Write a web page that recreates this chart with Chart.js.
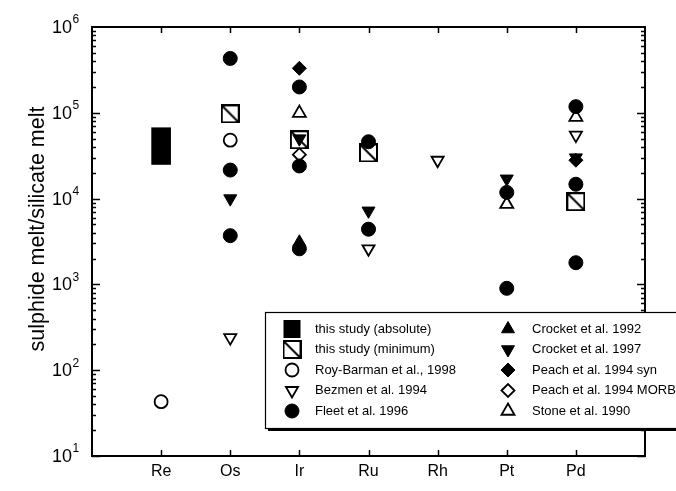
<!DOCTYPE html>
<html lang="en">
<head>
    <meta charset="UTF-8">
    <title>sulphide melt / silicate melt partition</title>
    <style>
        body { margin: 0; background: #fff; }
    </style>
</head>
<body>
    <canvas id="chart" width="676" height="491"></canvas>

    <script src="https://cdn.jsdelivr.net/npm/chart.js"></script>
    <script>
        // elements along the x axis (positions 1..7)
        const elements = ['Re', 'Os', 'Ir', 'Ru', 'Rh', 'Pt', 'Pd'];
        const yDecades = [10, 100, 1000, 10000, 100000, 1000000];
        const yTitle = 'sulphide melt/silicate melt';

        // values: [element, value]
        const absoluteRange = [['Re', 25000, 67000]];
        const minimumStudy = [['Os', 97000], ['Ir', 48500], ['Ru', 34000], ['Pd', 9200]];
        const royBarman = [['Re', 43], ['Os', 48000]];
        const bezmen = [['Os', 240], ['Ru', 2600], ['Rh', 28000], ['Pd', 55000]];
        const fleet = [
            ['Os', 430000], ['Os', 21500], ['Os', 3700],
            ['Ir', 200000], ['Ir', 24000], ['Ir', 2600],
            ['Ru', 46000], ['Ru', 4400],
            ['Pt', 11800], ['Pt', 900],
            ['Pd', 118000], ['Pd', 14700], ['Pd', 1790]
        ];
        const crocket92 = [['Ir', 3100]];
        const crocket97 = [['Os', 10000], ['Ir', 50000], ['Ru', 7200], ['Pt', 17000], ['Pd', 30000]];
        const peachSyn = [['Ir', 330000], ['Pd', 28000]];
        const peachMorb = [['Ir', 32500]];
        const stone = [['Ir', 99000], ['Pt', 8600], ['Pd', 89000]];

        const FONT = "'Liberation Sans', Arial, Helvetica, sans-serif";

        function toPoints(list) {
            return list.map(p => ({ x: elements.indexOf(p[0]) + 1, y: p[1] }));
        }

        // square with a diagonal, used for "this study (minimum)"
        function makeHatchSquare(size) {
            const c = document.createElement('canvas');
            c.width = size; c.height = size;
            const g = c.getContext('2d');
            g.fillStyle = '#fff';
            g.fillRect(0, 0, size, size);
            g.strokeStyle = '#000';
            g.lineWidth = 2;
            g.strokeRect(1, 1, size - 2, size - 2);
            g.beginPath();
            g.moveTo(1, 1);
            g.lineTo(size - 1, size - 1);
            g.stroke();
            return c;
        }
        const hatchSquare = makeHatchSquare(19);

        function filled(style, radius, rotation) {
            return { pointStyle: style, pointRadius: radius, pointRotation: rotation || 0,
                     backgroundColor: '#000', borderColor: '#000', borderWidth: 1 };
        }
        function open(style, radius, rotation) {
            return { pointStyle: style, pointRadius: radius, pointRotation: rotation || 0,
                     backgroundColor: '#fff', borderColor: '#000', borderWidth: 1.8 };
        }

        const series = [
            { label: 'this study (minimum)', data: minimumStudy, style: { pointStyle: hatchSquare, pointRadius: 10 }, order: 20 },
            { label: 'Roy-Barman et al., 1998', data: royBarman, style: open('circle', 6.5) },
            { label: 'Bezmen et al. 1994', data: bezmen, style: open('triangle', 7, 180) },
            { label: 'Stone et al. 1990', data: stone, style: open('triangle', 7.5) },
            { label: 'Peach et al. 1994 MORB', data: peachMorb, style: open('rectRot', 6.5) },
            { label: 'Fleet et al. 1996', data: fleet, style: filled('circle', 7) },
            { label: 'Crocket et al. 1992', data: crocket92, style: filled('triangle', 7.5) },
            { label: 'Peach et al. 1994 syn', data: peachSyn, style: filled('rectRot', 7) },
            { label: 'Crocket et al. 1997', data: crocket97, style: filled('triangle', 7.5, 180) }
        ];

        const datasets = [{
            type: 'bar',
            label: 'this study (absolute)',
            data: absoluteRange.map(p => ({ x: elements.indexOf(p[0]) + 1, y: [p[1], p[2]] })),
            backgroundColor: '#000',
            borderWidth: 0,
            barThickness: 19,
            grouped: false,
            order: 30
        }];
        series.forEach((s, i) => {
            datasets.push(Object.assign({
                type: 'scatter',
                label: s.label,
                data: toPoints(s.data),
                order: s.order !== undefined ? s.order : 10 - i
            }, s.style));
        });

        // frame, inward ticks, y tick labels and y title
        const axesPlugin = {
            id: 'axesFrame',
            afterDatasetsDraw(chart) {
                const ctx = chart.ctx;
                const a = chart.chartArea;
                const xs = chart.scales.x, ys = chart.scales.y;
                ctx.save();
                ctx.strokeStyle = '#000';
                ctx.lineWidth = 2;
                ctx.strokeRect(a.left, a.top, a.right - a.left, a.bottom - a.top);

                ctx.lineWidth = 1.5;
                ctx.beginPath();
                elements.forEach((e, i) => {
                    const px = Math.round(xs.getPixelForValue(i + 1)) + 0.5;
                    ctx.moveTo(px, a.bottom); ctx.lineTo(px, a.bottom - 6);
                    ctx.moveTo(px, a.top); ctx.lineTo(px, a.top + 6);
                });
                for (let d = 10; d < 1000000; d *= 10) {
                    for (let m = 1; m <= 9; m++) {
                        const len = m === 1 ? 8 : 4;
                        const py = Math.round(ys.getPixelForValue(m * d)) + 0.5;
                        ctx.moveTo(a.left, py); ctx.lineTo(a.left + len, py);
                        ctx.moveTo(a.right, py); ctx.lineTo(a.right - len, py);
                    }
                }
                ctx.stroke();

                // 10^n labels
                ctx.fillStyle = '#000';
                ctx.textBaseline = 'middle';
                ctx.textAlign = 'left';
                yDecades.forEach(v => {
                    const py = ys.getPixelForValue(v);
                    const exp = String(Math.round(Math.log10(v)));
                    ctx.font = '18px ' + FONT;
                    ctx.fillText('10', 52, py + 1);
                    const w = ctx.measureText('10').width;
                    ctx.font = '12px ' + FONT;
                    ctx.fillText(exp, 52 + w + 0.5, py - 7);
                });

                // rotated y title
                ctx.translate(38, 229);
                ctx.rotate(-Math.PI / 2);
                ctx.textAlign = 'center';
                ctx.font = '21.5px ' + FONT;
                ctx.fillText(yTitle, 0, 0);
                ctx.restore();
            }
        };

        // two-column boxed legend in the lower right
        const legendPlugin = {
            id: 'boxLegend',
            afterDraw(chart) {
                const ctx = chart.ctx;
                const draw = Chart.helpers.drawPoint;
                const box = { left: 265, top: 312, right: 690, bottom: 428 };
                const rows = [329, 349.5, 370, 390.5, 411];
                const left = ['this study (absolute)', 'this study (minimum)', 'Roy-Barman et al., 1998',
                              'Bezmen et al. 1994', 'Fleet et al. 1996'];
                const right = ['Crocket et al. 1992', 'Crocket et al. 1997', 'Peach et al. 1994 syn',
                               'Peach et al. 1994 MORB', 'Stone et al. 1990'];
                ctx.save();
                ctx.fillStyle = '#fff';
                ctx.fillRect(box.left, box.top, box.right - box.left, box.bottom - box.top);
                ctx.strokeStyle = '#000';
                ctx.lineWidth = 1.2;
                ctx.strokeRect(box.left + 0.5, box.top + 0.5, box.right - box.left, box.bottom - box.top);
                ctx.fillStyle = '#000';
                ctx.fillRect(box.left + 3, box.bottom, box.right - box.left, 3);

                const byLabel = {};
                chart.data.datasets.forEach(d => { byLabel[d.label] = d; });
                const sym = (label, x, y) => {
                    const d = byLabel[label];
                    if (d.type === 'bar') {
                        ctx.fillStyle = '#000';
                        ctx.fillRect(x - 8.5, y - 9, 17, 18);
                        return;
                    }
                    ctx.fillStyle = d.backgroundColor;
                    ctx.strokeStyle = d.borderColor || '#000';
                    ctx.lineWidth = d.borderWidth || 1;
                    draw(ctx, { pointStyle: d.pointStyle, radius: d.pointRadius, rotation: d.pointRotation || 0,
                                borderWidth: d.borderWidth || 1 }, x, y);
                };

                ctx.font = '13px ' + FONT;
                ctx.textBaseline = 'middle';
                ctx.textAlign = 'left';
                rows.forEach((y, i) => {
                    sym(left[i], 292, y);
                    sym(right[i], 508, y);
                    ctx.fillStyle = '#000';
                    ctx.fillText(left[i], 315, y);
                    ctx.fillText(right[i], 532, y);
                });
                ctx.restore();
            }
        };

        new Chart(document.getElementById('chart'), {
            type: 'scatter',
            data: { datasets: datasets },
            options: {
                responsive: false,
                animation: false,
                layout: { padding: { top: 27, right: 31, left: 0, bottom: 0 } },
                scales: {
                    x: {
                        type: 'linear',
                        min: 0,
                        max: 8,
                        offset: false,
                        grid: { display: false, drawTicks: false },
                        border: { display: false },
                        ticks: {
                            stepSize: 1,
                            padding: 6,
                            color: '#000',
                            font: { family: FONT, size: 16 },
                            callback: v => elements[v - 1] || ''
                        },
                        afterFit: s => { s.height = 35; }
                    },
                    y: {
                        type: 'logarithmic',
                        min: 10,
                        max: 1000000,
                        grid: { display: false, drawTicks: false },
                        border: { display: false },
                        ticks: { display: false },
                        afterFit: s => { s.width = 92; }
                    }
                },
                plugins: {
                    legend: { display: false },
                    tooltip: { enabled: false }
                }
            },
            plugins: [axesPlugin, legendPlugin]
        });
    </script>
</body>
</html>
